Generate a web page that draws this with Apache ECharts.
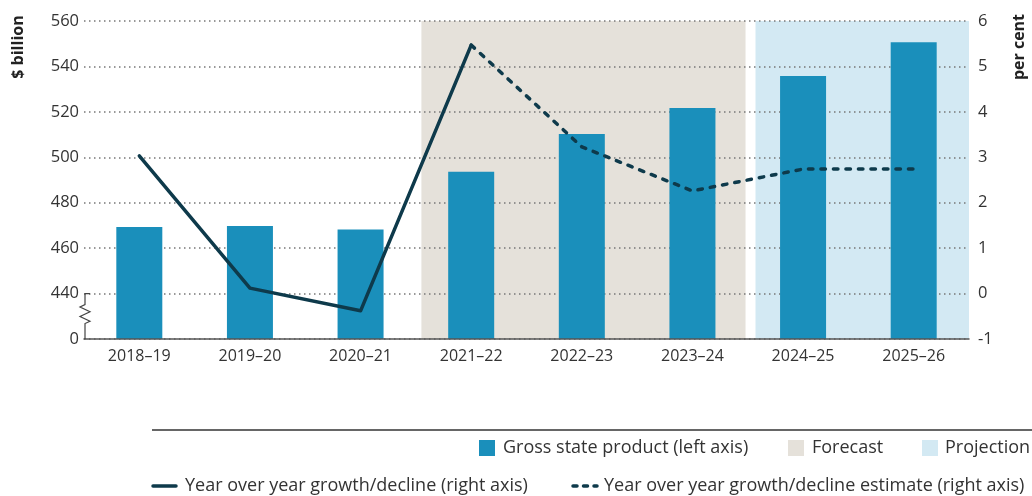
<!DOCTYPE html>
<html>
<head>
<meta charset="utf-8">
<title>Gross state product and growth</title>
<script src="https://cdn.jsdelivr.net/npm/echarts@6/dist/echarts.min.js"></script>
<style>
  html, body { margin: 0; padding: 0; background: #fff; }
  #chart { width: 1032px; height: 496px; }
</style>
</head>
<body>
<div id="chart"></div>
<script>
// Fiscal years on the category axis
const categories = ['2018–19', '2019–20', '2020–21', '2021–22', '2022–23', '2023–24', '2024–25', '2025–26'];

// Gross state product, $ billion (left axis)
const gspValues = [469.3, 469.8, 468.2, 493.6, 510.3, 521.7, 535.8, 550.6];

// Year-over-year growth, per cent (right axis): actual and estimated segments
const growthActual = [3.03, 0.12, -0.38, 5.47, null, null, null, null];
const growthEstimate = [null, null, null, 5.47, 3.23, 2.26, 2.74, 2.74];

// Left axis runs 420..560 but the bottom tick is labelled 0 (broken axis)
const leftTickValues = [420, 440, 460, 480, 500, 520, 540, 560];
const leftTickLabels = ['0', '440', '460', '480', '500', '520', '540', '560'];
const rightTickLabels = ['-1', '0', '1', '2', '3', '4', '5', '6'];

// Shaded periods, in category units along the x axis
const shadedPeriods = [
  { name: 'Forecast', from: 3.05, to: 5.98 },
  { name: 'Projection', from: 6.07, to: 8.0 }
];

const FONT = '"Open Sans", "Noto Sans", sans-serif';
const TEXT = '#333';
const BAR = '#1a8fbb';
const LINE = '#0e3a4b';
const SHADE = { Forecast: '#e5e1da', Projection: '#d3e9f3' };

const chart = echarts.init(document.getElementById('chart'), null, { renderer: 'canvas' });

const option = {
  animation: false,
  textStyle: { fontFamily: FONT },
  grid: { left: 84, right: 63, top: 21, bottom: 157, containLabel: false },
  xAxis: [
    {
      type: 'category',
      data: categories,
      boundaryGap: true,
      axisTick: { show: false },
      axisLine: { onZero: false, lineStyle: { color: '#555', width: 1.5 } },
      axisLabel: { color: TEXT, fontSize: 16, margin: 9, fontFamily: FONT },
      z: 3
    },
    {
      type: 'value',
      min: 0,
      max: categories.length,
      show: false
    }
  ],
  yAxis: [
    {
      type: 'value',
      min: leftTickValues[0],
      max: leftTickValues[leftTickValues.length - 1],
      interval: 20,
      axisLine: { show: false },
      axisTick: { show: false },
      axisLabel: {
        color: TEXT, fontSize: 16.5, margin: 5, fontFamily: FONT,
        formatter: v => leftTickLabels[leftTickValues.indexOf(v)] ?? ''
      },
      splitLine: { show: true, lineStyle: { type: [1.5, 3.5], color: '#777', width: 1.5 } }
    },
    {
      type: 'value',
      min: -1,
      max: 6,
      interval: 1,
      position: 'right',
      axisLine: { show: false },
      axisTick: { show: false },
      splitLine: { show: false },
      axisLabel: {
        color: TEXT, fontSize: 16.5, margin: 9, fontFamily: FONT,
        formatter: v => rightTickLabels[v + 1]
      }
    }
  ],
  series: [
    {
      name: 'Shading',
      type: 'custom',
      xAxisIndex: 1,
      yAxisIndex: 0,
      z: -1,
      silent: true,
      data: shadedPeriods.map(p => [p.from, p.to, p.name]),
      renderItem: (params, api) => {
        const cs = params.coordSys;
        const x0 = api.coord([api.value(0), leftTickValues[0]])[0];
        const x1 = api.coord([api.value(1), leftTickValues[0]])[0];
        const name = shadedPeriods[params.dataIndex].name;
        return {
          type: 'rect',
          shape: { x: x0, y: cs.y, width: x1 - x0, height: cs.height },
          style: { fill: SHADE[name] }
        };
      }
    },
    {
      name: 'Gross state product (left axis)',
      type: 'bar',
      xAxisIndex: 0,
      yAxisIndex: 0,
      data: gspValues,
      barWidth: 46,
      itemStyle: { color: BAR },
      z: 2
    },
    {
      name: 'Year over year growth/decline (right axis)',
      type: 'line',
      xAxisIndex: 0,
      yAxisIndex: 1,
      data: growthActual,
      showSymbol: false,
      symbol: 'none',
      connectNulls: false,
      lineStyle: { color: LINE, width: 3.5, cap: 'round', join: 'round' },
      z: 4
    },
    {
      name: 'Year over year growth/decline estimate (right axis)',
      type: 'line',
      xAxisIndex: 0,
      yAxisIndex: 1,
      data: growthEstimate,
      showSymbol: false,
      symbol: 'none',
      connectNulls: false,
      lineStyle: { color: LINE, width: 3.5, type: [4.5, 8], cap: 'round', join: 'round' },
      z: 4
    }
  ],
  graphic: [
    // Axis titles
    {
      type: 'text', x: 18, y: 47, rotation: Math.PI / 2,
      style: { text: '$ billion', font: 'bold 16px ' + FONT, fill: '#222', align: 'center', verticalAlign: 'middle' }
    },
    {
      type: 'text', x: 1019, y: 47, rotation: Math.PI / 2,
      style: { text: 'per cent', font: 'bold 16px ' + FONT, fill: '#222', align: 'center', verticalAlign: 'middle' }
    },
    // Legend separator
    { type: 'line', shape: { x1: 152, y1: 430, x2: 1032, y2: 430 }, style: { stroke: '#333', lineWidth: 1.5 } },
    // Legend row 1
    { type: 'rect', shape: { x: 479, y: 440, width: 16, height: 16 }, style: { fill: BAR } },
    { type: 'text', x: 503, y: 448, style: { text: 'Gross state product (left axis)', font: '18px ' + FONT, fill: TEXT, verticalAlign: 'middle' } },
    { type: 'rect', shape: { x: 788, y: 440, width: 16, height: 16 }, style: { fill: SHADE.Forecast } },
    { type: 'text', x: 812, y: 448, style: { text: 'Forecast', font: '18px ' + FONT, fill: TEXT, verticalAlign: 'middle' } },
    { type: 'rect', shape: { x: 922, y: 440, width: 16, height: 16 }, style: { fill: SHADE.Projection } },
    { type: 'text', x: 945, y: 448, style: { text: 'Projection', font: '18px ' + FONT, fill: TEXT, verticalAlign: 'middle' } },
    // Legend row 2
    { type: 'line', shape: { x1: 153, y1: 486, x2: 176, y2: 486 }, style: { stroke: LINE, lineWidth: 3.5, lineCap: 'round' } },
    { type: 'text', x: 185, y: 486, style: { text: 'Year over year growth/decline (right axis)', font: '18px ' + FONT, fill: TEXT, verticalAlign: 'middle' } },
    { type: 'line', shape: { x1: 573, y1: 486, x2: 597, y2: 486 }, style: { stroke: LINE, lineWidth: 3.5, lineCap: 'round', lineDash: [4, 6.5] } },
    { type: 'text', x: 604, y: 486, style: { text: 'Year over year growth/decline estimate (right axis)', font: '18px ' + FONT, fill: TEXT, verticalAlign: 'middle' } }
  ]
};

chart.setOption(option);

// Broken-axis marker on the left: short axis segment from 440 down to the base with a zigzag
const axisX = chart.convertToPixel({ xAxisIndex: 1 }, 0) + 1;
const yTop = chart.convertToPixel({ yAxisIndex: 0 }, 440);
const yBase = chart.convertToPixel({ yAxisIndex: 0 }, leftTickValues[0]);
const zigTop = yTop + 11;
const zigBottom = yTop + 30;
const step = (zigBottom - zigTop) / 4;
chart.setOption({
  graphic: [{
    type: 'polyline',
    id: 'axis-break',
    z: 10,
    shape: {
      points: [
        [axisX + 5, yTop], [axisX, yTop], [axisX, zigTop],
        [axisX - 5, zigTop + step * 0.5],
        [axisX + 5, zigTop + step * 1.5],
        [axisX - 5, zigTop + step * 2.5],
        [axisX + 5, zigTop + step * 3.5],
        [axisX, zigBottom], [axisX, yBase]
      ]
    },
    style: { stroke: '#444', lineWidth: 1.2, fill: null }
  }]
});
</script>
</body>
</html>
